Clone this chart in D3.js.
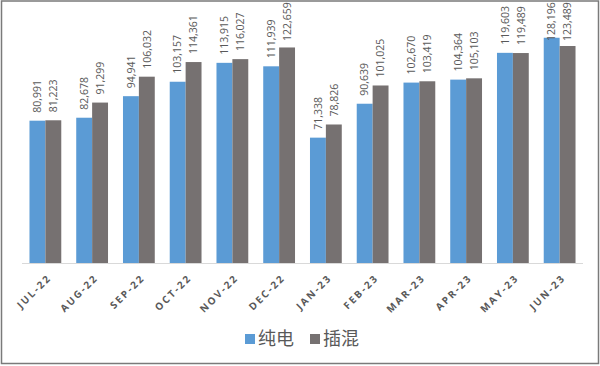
<!DOCTYPE html>
<html>
<head>
<meta charset="utf-8">
<script src="https://cdn.jsdelivr.net/npm/d3@7"></script>
<style>
    body { margin: 0; background: #fff; }
    svg { display: block; }
</style>
</head>
<body>
<div id="chart"></div>
<script>
const width = 600;
const height = 366;

// data
const months = ["JUL-22", "AUG-22", "SEP-22", "OCT-22", "NOV-22", "DEC-22",
    "JAN-23", "FEB-23", "MAR-23", "APR-23", "MAY-23", "JUN-23"];
const seriesNames = ["纯电", "插混"];
const bev = [80991, 82678, 94941, 103157, 113915, 111939, 71338, 90639, 102670, 104364, 119603, 128196];
const phev = [81223, 91299, 106032, 114361, 116027, 122659, 78826, 101025, 103419, 105103, 119489, 123489];

const colors = ["#5b9bd5", "#767171"];
const textColor = "#595959";

const rows = months.map((m, i) => ({ month: m, values: [bev[i], phev[i]] }));

const svg = d3.select("#chart")
    .append("svg")
    .attr("width", width)
    .attr("height", height);

// outer frame
svg.append("rect")
    .attr("x", 1.5).attr("y", 1)
    .attr("width", width - 3).attr("height", height - 3.5)
    .attr("fill", "none")
    .attr("stroke", "#7a7a7a")
    .attr("stroke-width", 1.5);

const x = d3.scaleBand()
    .domain(months)
    .range([22, 583])
    .paddingInner(0.32)
    .paddingOuter(0.16);

const xSub = d3.scaleBand()
    .domain([0, 1])
    .range([0, x.bandwidth()]);

const y = d3.scaleLinear()
    .domain([0, 140000])
    .range([263, 17]);

const fmt = d3.format(",");
const labelLen = 38; // rough length of a rotated value label

const group = svg.append("g")
    .selectAll("g")
    .data(rows)
    .join("g")
    .attr("transform", d => `translate(${x(d.month)},0)`);

group.selectAll("rect")
    .data(d => d.values)
    .join("rect")
    .attr("x", (v, i) => xSub(i))
    .attr("y", v => y(v))
    .attr("width", xSub.bandwidth())
    .attr("height", v => y(0) - y(v))
    .attr("fill", (v, i) => colors[i]);

// value labels, rotated; kept inside the frame like Excel does
group.selectAll("text")
    .data(d => d.values)
    .join("text")
    .attr("transform", (v, i) => `translate(${xSub(i) + xSub.bandwidth() / 2},${Math.max(y(v) - 8, labelLen + 3)}) rotate(-90)`)
    .attr("dy", "0.35em")
    .attr("text-anchor", "start")
    .attr("font-family", "'Open Sans', sans-serif")
    .attr("font-size", 10.5)
    .attr("fill", textColor)
    .text(v => fmt(v));

// baseline
svg.append("line")
    .attr("x1", 22).attr("x2", 583)
    .attr("y1", y(0) + 0.5).attr("y2", y(0) + 0.5)
    .attr("stroke", "#d9d9d9")
    .attr("stroke-width", 1);

// x axis labels
const xAxis = svg.append("g")
    .attr("transform", `translate(0,${y(0)})`)
    .call(d3.axisBottom(x).tickSize(0).tickPadding(0));

xAxis.select(".domain").remove();
xAxis.selectAll("text")
    .attr("transform", "translate(4,13) rotate(-45)")
    .attr("text-anchor", "end")
    .attr("dy", "0.35em")
    .attr("font-family", "'Open Sans', sans-serif")
    .attr("font-size", 10)
    .attr("font-weight", "bold")
    .attr("letter-spacing", "2px")
    .attr("fill", textColor);

// legend
const legend = svg.append("g")
    .attr("transform", "translate(245,339)");

const item = legend.selectAll("g")
    .data(seriesNames)
    .join("g")
    .attr("transform", (d, i) => `translate(${i * 65},0)`);

item.append("rect")
    .attr("x", 0).attr("y", -5)
    .attr("width", 10).attr("height", 10)
    .attr("fill", (d, i) => colors[i]);

item.append("text")
    .attr("x", 13)
    .attr("dy", "0.36em")
    .attr("font-family", "'Noto Sans CJK SC', sans-serif")
    .attr("font-size", 18)
    .attr("fill", textColor)
    .text(d => d);
</script>
</body>
</html>
